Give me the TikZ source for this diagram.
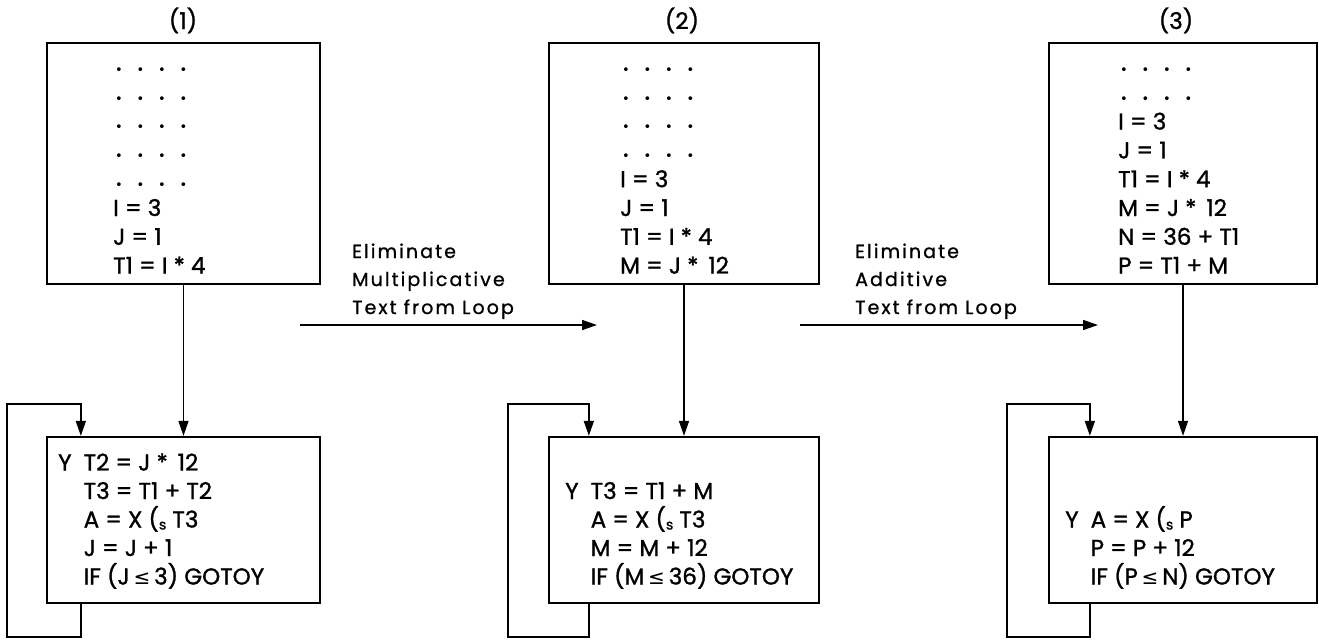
\documentclass[tikz,border=0pt]{standalone}
\usepackage{fontspec}
\setmainfont{Poppins}[FakeBold=1.2]
\newfontfamily\lblfont{Poppins}[FakeBold=1.0,LetterSpace=11]
\newfontfamily\symfont{DejaVu Sans}
\usetikzlibrary{arrows.meta,calc}
\newcommand\onedot{\makebox[21.5pt][l]{\hspace*{2pt}\raisebox{-2.2pt}{\symfont\fontsize{13pt}{13pt}\selectfont •}}}
\newcommand\dotrow{\onedot\onedot\onedot\onedot}
\newcommand\lesym{{\symfont\fontsize{20pt}{20pt}\selectfont ≤}}
\newcommand\smalls{\raisebox{-2pt}{\fontsize{14pt}{14pt}\selectfont s}}
\newcommand\Ylab{\makebox[25.5pt][l]{Y}}
\begin{document}
\begin{tikzpicture}[x=1pt,y=-1pt,
  box/.style={draw,line width=2.3pt,inner sep=0pt,line join=miter},
  code/.style={anchor=base west,inner sep=0pt,font=\fontsize{23pt}{28pt}\selectfont},
  lbl/.style={anchor=base west,inner sep=0pt,font=\lblfont\fontsize{19pt}{28pt}\selectfont},
  num/.style={anchor=base,inner sep=0pt,font=\fontsize{23pt}{28pt}\selectfont},
  conn/.style={line width=1.5pt,line join=miter,-{Triangle[length=15pt,width=10pt]}},
  ]
\useasboundingbox (0,0) rectangle (1319,641);

% top boxes
\node[box,minimum width=273pt,minimum height=241pt] (t1) at (183.5,163.5) {};
\node[box,minimum width=270pt,minimum height=241pt] (t2) at (684,163.5) {};
\node[box,minimum width=268pt,minimum height=241pt] (t3) at (1183,163.5) {};
% loop boxes
\node[box,minimum width=273pt,minimum height=166pt] (l1) at (183.5,520) {};
\node[box,minimum width=270pt,minimum height=166pt] (l2) at (684,520) {};
\node[box,minimum width=268pt,minimum height=166pt] (l3) at (1183,520) {};

% headings
\node[num] (n1) at (183,29) {(1)};
\node[num] (n2) at (682,29) {(2)};
\node[num] (n3) at (1176,29) {(3)};

% top box texts
\foreach \s [count=\i from 0] in {\dotrow,\dotrow,\dotrow,\dotrow,\dotrow,{I = 3},{J = 1},{T1 = I * 4}}
  \node[code] (t1-\i) at (113,{72+28.8*\i}) {\s};
\foreach \s [count=\i from 0] in {\dotrow,\dotrow,\dotrow,\dotrow,{I = 3},{J = 1},{T1 = I * 4},{M = J *\, 12}}
  \node[code] (t2-\i) at (620,{72+28.8*\i}) {\s};
\foreach \s [count=\i from 0] in {\dotrow,\dotrow,{I = 3},{J = 1},{T1 = I * 4},{M = J *\, 12},{N = 36 + T1},{P = T1 + M}}
  \node[code] (t3-\i) at (1118,{72+28.8*\i}) {\s};

% loop box texts
\foreach \s [count=\i from 0] in {{\Ylab T2 = J *\, 12},{\hspace*{25.5pt}T3 = T1 + T2},{\hspace*{25.5pt}A = X (\smalls{} T3},{\hspace*{25.5pt}J = J + 1},{\hspace*{25.5pt}IF (J\,\lesym\,3) GOTOY}}
  \node[code] (l1-\i) at (58,{470.5+28.5*\i}) {\s};
\foreach \s [count=\i from 0] in {{\Ylab T3 = T1 + M},{\hspace*{25.5pt}A = X (\smalls{} T3},{\hspace*{25.5pt}M = M + 12},{\hspace*{25.5pt}IF (M\,\lesym\,36) GOTOY}}
  \node[code] (l2-\i) at (565,{499+28.5*\i}) {\s};
\foreach \s [count=\i from 0] in {{\Ylab A = X (\smalls{} P},{\hspace*{25.5pt}P = P + 12},{\hspace*{25.5pt}IF (P\,\lesym\,N) GOTOY}}
  \node[code] (l3-\i) at (1065,{527.5+28.5*\i}) {\s};

% transformation labels
\node[lbl] (e1) at (352,258) {Eliminate};
\node[lbl] (m1) at (352,286) {Multiplicative};
\node[lbl] (x1) at (352,314) {Text from Loop};
\node[lbl] (e2) at (855,258) {Eliminate};
\node[lbl] (m2) at (855,286) {Additive};
\node[lbl] (x2) at (855,314) {Text from Loop};

% horizontal arrows
\coordinate (h1s) at (300,325);
\coordinate (h1e) at (597,325);
\coordinate (h2s) at (800,325);
\coordinate (h2e) at (1098,325);
\draw[conn] (h1s) -- (h1e);
\draw[conn] (h2s) -- (h2e);

% vertical arrows
\draw[conn] (t1.south) -- (l1.north);
\draw[conn] (t2.south) -- (l2.north);
\draw[conn] (t3.south) -- (l3.north);

% loops
\draw[conn] ($(l1.south west)+(35,0)$) -- ++(0,33) -- ++(-74,0) -- ++(0,-233) -- ++(74,0) -- ($(l1.north west)+(35,0)$);
\draw[conn] ($(l2.south west)+(41,0)$) -- ++(0,33) -- ++(-81,0) -- ++(0,-233) -- ++(81,0) -- ($(l2.north west)+(41,0)$);
\draw[conn] ($(l3.south west)+(42,0)$) -- ++(0,33) -- ++(-83,0) -- ++(0,-233) -- ++(83,0) -- ($(l3.north west)+(42,0)$);
\end{tikzpicture}
\end{document}
